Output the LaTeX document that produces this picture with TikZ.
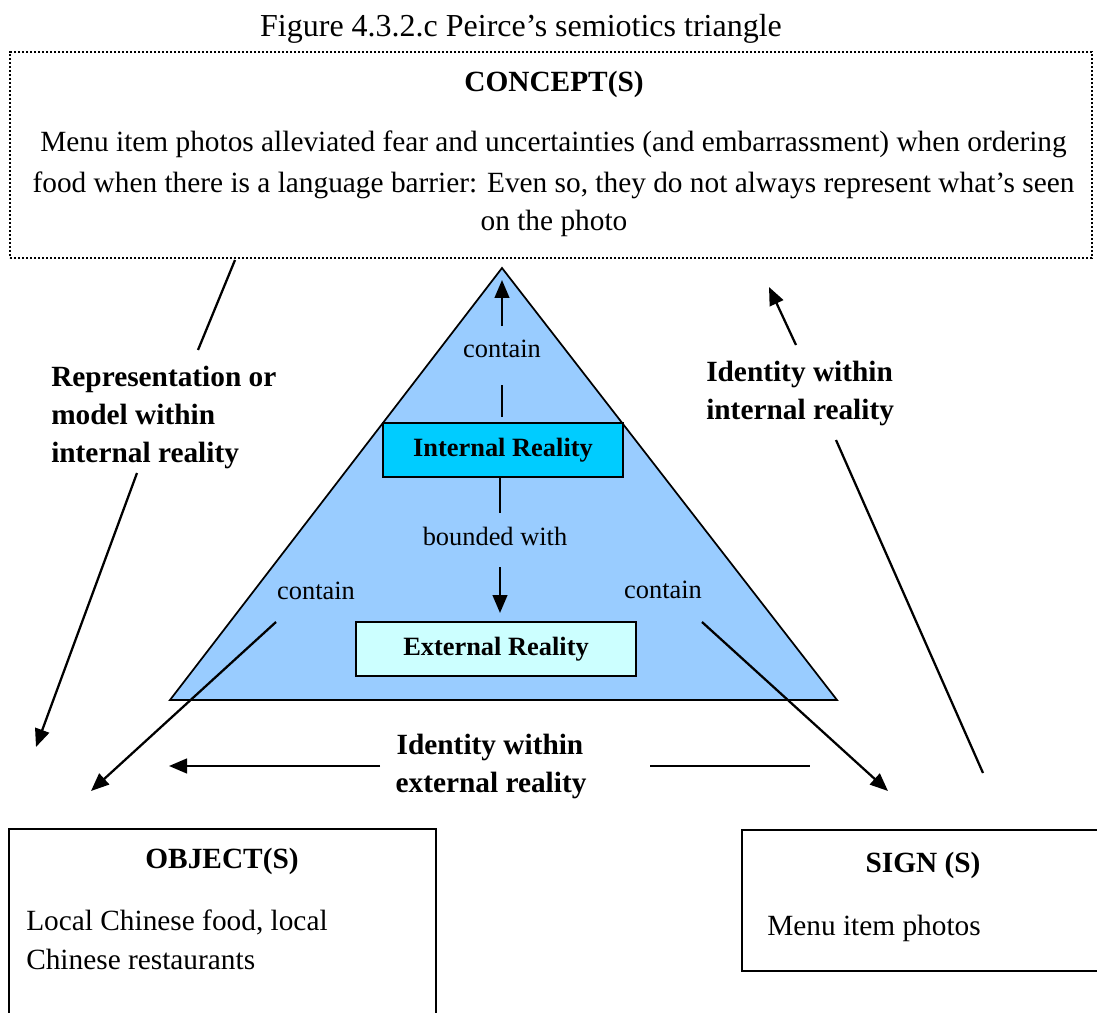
\documentclass[tikz,border=0pt]{standalone}
\usepackage{fontspec}
\setmainfont{Liberation Serif}
\usetikzlibrary{arrows.meta}
\definecolor{triblue}{HTML}{99CCFF}
\definecolor{innerblue}{HTML}{00CCFF}
\definecolor{outerblue}{HTML}{CCFFFF}
\newcommand\bodysize{\fontsize{22}{26}\selectfont}
\newcommand\labelsize{\fontsize{19.8}{24}\selectfont}
\newcommand\headsize{\fontsize{24}{28}\selectfont}
\begin{document}
\begin{tikzpicture}[x=0.75pt,y=-0.75pt,
  txt/.style={inner sep=0pt, font=\bodysize, anchor=base},
  btxt/.style={inner sep=0pt, font=\bodysize\bfseries, anchor=base},
  lbl/.style={inner sep=0pt, font=\labelsize, anchor=base},
  conn/.style={line width=1.7pt},
  arr/.style={conn, -{Triangle[length=13.5pt,width=11pt]}},
  frame/.style={draw, line width=1.7pt, inner sep=0pt},
  realm/.style={draw, line width=1.4pt, inner sep=0pt, font=\labelsize\bfseries}
]
\clip (0,0) rectangle (1097,1013);

% caption
\node[inner sep=0pt, font=\headsize, anchor=base] (title) at (521,37) {Figure 4.3.2.c Peirce’s semiotics triangle};

% concept box
\node[draw, line width=2pt, dash pattern=on 1.6pt off 1.4pt, inner sep=0pt,
      minimum width=1082*0.75pt, minimum height=206*0.75pt] (concept) at (551,155) {};
\node[btxt] (conceptHead) at (554,92) {CONCEPT(S)};
\node[txt] (c1) at (553.5,152) {Menu item photos alleviated fear and uncertainties (and embarrassment) when ordering};
\node[txt] (c2) at (553.5,193) {food when there is a language barrier: Even so, they do not always represent what’s seen};
\node[txt] (c3) at (554,231) {on the photo};

% triangle
\draw[fill=triblue, line width=1.3pt] (502,268) -- (837,700) -- (170,700) -- cycle;

% internal / external reality
\node[realm, fill=innerblue, minimum width=240*0.75pt, minimum height=54*0.75pt] (ir) at (503,450) {Internal Reality};
\node[realm, fill=outerblue, minimum width=280*0.75pt, minimum height=54*0.75pt] (er) at (496,649) {External Reality};

\node[lbl] (topContain) at (502,358) {contain};
\node[lbl] (bounded) at (495,545) {bounded with};
\node[lbl] (leftContain) at (316,599) {contain};
\node[lbl] (rightContain) at (663,598) {contain};

\coordinate (upFrom) at (502,326);
\coordinate (upTo) at (502,280);
\coordinate (irStemTop) at (502,385);
\coordinate (irStemBot) at (502,417);
\coordinate (bndStem) at (500,513);
\coordinate (bndFrom) at (500,567);
\coordinate (bndTo) at (500,613);

\draw[arr] (upFrom) -- (upTo);
\draw[conn] (irStemTop) -- (irStemBot);
\draw[conn] (ir.south -| bndStem) -- (bndStem);
\draw[arr] (bndFrom) -- (bndTo);

% object and sign boxes
\node[frame, minimum width=427*0.75pt, minimum height=220*0.75pt] (object) at (222.5,939) {};
\node[btxt] (objHead) at (222,868) {OBJECT(S)};
\node[txt, anchor=base west] (o1) at (26,930) {Local Chinese food, local};
\node[txt, anchor=base west] (o2) at (26,969) {Chinese restaurants};

\node[frame, minimum width=370*0.75pt, minimum height=141*0.75pt] (sign) at (927,900.5) {};
\node[btxt] (signHead) at (923,872) {SIGN (S)};
\node[txt, anchor=base west] (s1) at (767,935) {Menu item photos};

% contain arrows towards object and sign
\coordinate (lcFrom) at (276,622);
\coordinate (lcTo) at (91,791);
\coordinate (rcFrom) at (702,622);
\coordinate (rcTo) at (888,791);
\draw[arr] (lcFrom) -- (lcTo);
\draw[arr] (rcFrom) -- (rcTo);

% identity within external reality
\node[btxt] (ext1) at (490,754) {Identity within};
\node[btxt] (ext2) at (491,792) {external reality};
\coordinate (extL) at (380,766);
\coordinate (extLTo) at (169,766);
\coordinate (extR1) at (650,766);
\coordinate (extR2) at (810,766);
\draw[arr] (extL) -- (extLTo);
\draw[conn] (extR1) -- (extR2);

% representation or model within internal reality
\node[btxt, anchor=base west] (rep1) at (51,386) {Representation or};
\node[btxt, anchor=base west] (rep2) at (51,424) {model within};
\node[btxt, anchor=base west] (rep3) at (51,462) {internal reality};
\coordinate (repA) at (235,260);
\coordinate (repB) at (198,350);
\coordinate (repC) at (137,473);
\coordinate (repD) at (36,747);
\draw[conn] (repA) -- (repB);
\draw[arr] (repC) -- (repD);

% identity within internal reality
\node[btxt, anchor=base west] (int1) at (706,381) {Identity within};
\node[btxt, anchor=base west] (int2) at (706,419) {internal reality};
\coordinate (idA) at (983,773);
\coordinate (idB) at (836,440);
\coordinate (idC) at (796,345);
\coordinate (idD) at (769,287);
\draw[conn] (idA) -- (idB);
\draw[arr] (idC) -- (idD);
\end{tikzpicture}
\end{document}
